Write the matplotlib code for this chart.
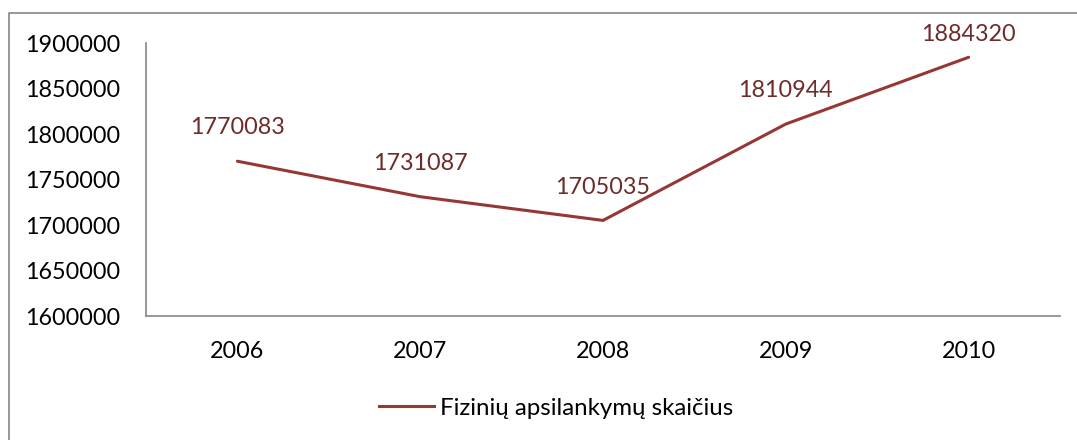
import matplotlib
matplotlib.use("Agg")
import matplotlib.pyplot as plt
from matplotlib.lines import Line2D

years = ["2006", "2007", "2008", "2009", "2010"]
visits = [1770083, 1731087, 1705035, 1810944, 1884320]
series_name = "Fizinių apsilankymų skaičius"
y_ticks = [1600000, 1650000, 1700000, 1750000, 1800000, 1850000, 1900000]

line_color = "#953735"
label_color = "#6e2b2a"
spine_color = "#868686"

plt.rcParams['font.family'] = ['Lato', 'DejaVu Sans']

W, H = 1077, 440
fig = plt.figure(figsize=(W / 100, H / 100), dpi=100)
ax = fig.add_axes([146 / W, 1 - 316 / H, (1060 - 146) / W, (316 - 43) / H])

x = list(range(len(years)))
ax.plot(x, visits, color=line_color, lw=2.2, solid_capstyle='round',
        solid_joinstyle='miter', label=series_name)

ax.set_xlim(-0.5, len(years) - 0.5)
ax.set_ylim(y_ticks[0], y_ticks[-1])
ax.set_yticks(y_ticks)
ax.set_yticklabels([str(v) for v in y_ticks])
ax.set_xticks(x)
ax.set_xticklabels(years)
ax.tick_params(axis='y', length=0, pad=18.5, labelsize=16.8)
ax.tick_params(axis='x', length=0, pad=18, labelsize=16.8)

for s in ['top', 'right']:
    ax.spines[s].set_visible(False)
for s in ['left', 'bottom']:
    ax.spines[s].set_color(spine_color)
    ax.spines[s].set_linewidth(1.2)

offsets = [24, 24, 24, 24, 16.5]
for xi, v, off in zip(x, visits, offsets):
    ax.annotate(str(v), (xi, v), xytext=(0, off), textcoords='offset points',
                ha='center', va='center', color=label_color, fontsize=16.8,
                annotation_clip=False)

leg = fig.legend(handles=[Line2D([], [], color=line_color, lw=2.2)],
                 labels=[series_name], loc='center',
                 bbox_to_anchor=(556 / W, 1 - 408 / H), frameon=False,
                 fontsize=17.3, handlelength=2.3, handletextpad=0.25)

# outer chart border (top and left visible)
fig.add_artist(Line2D([9 / W, 9 / W, 1.0], [0.0, 1 - 13 / H, 1 - 13 / H],
                      transform=fig.transFigure, color=spine_color, lw=1.2))

fig.savefig("out.png", dpi=100)
